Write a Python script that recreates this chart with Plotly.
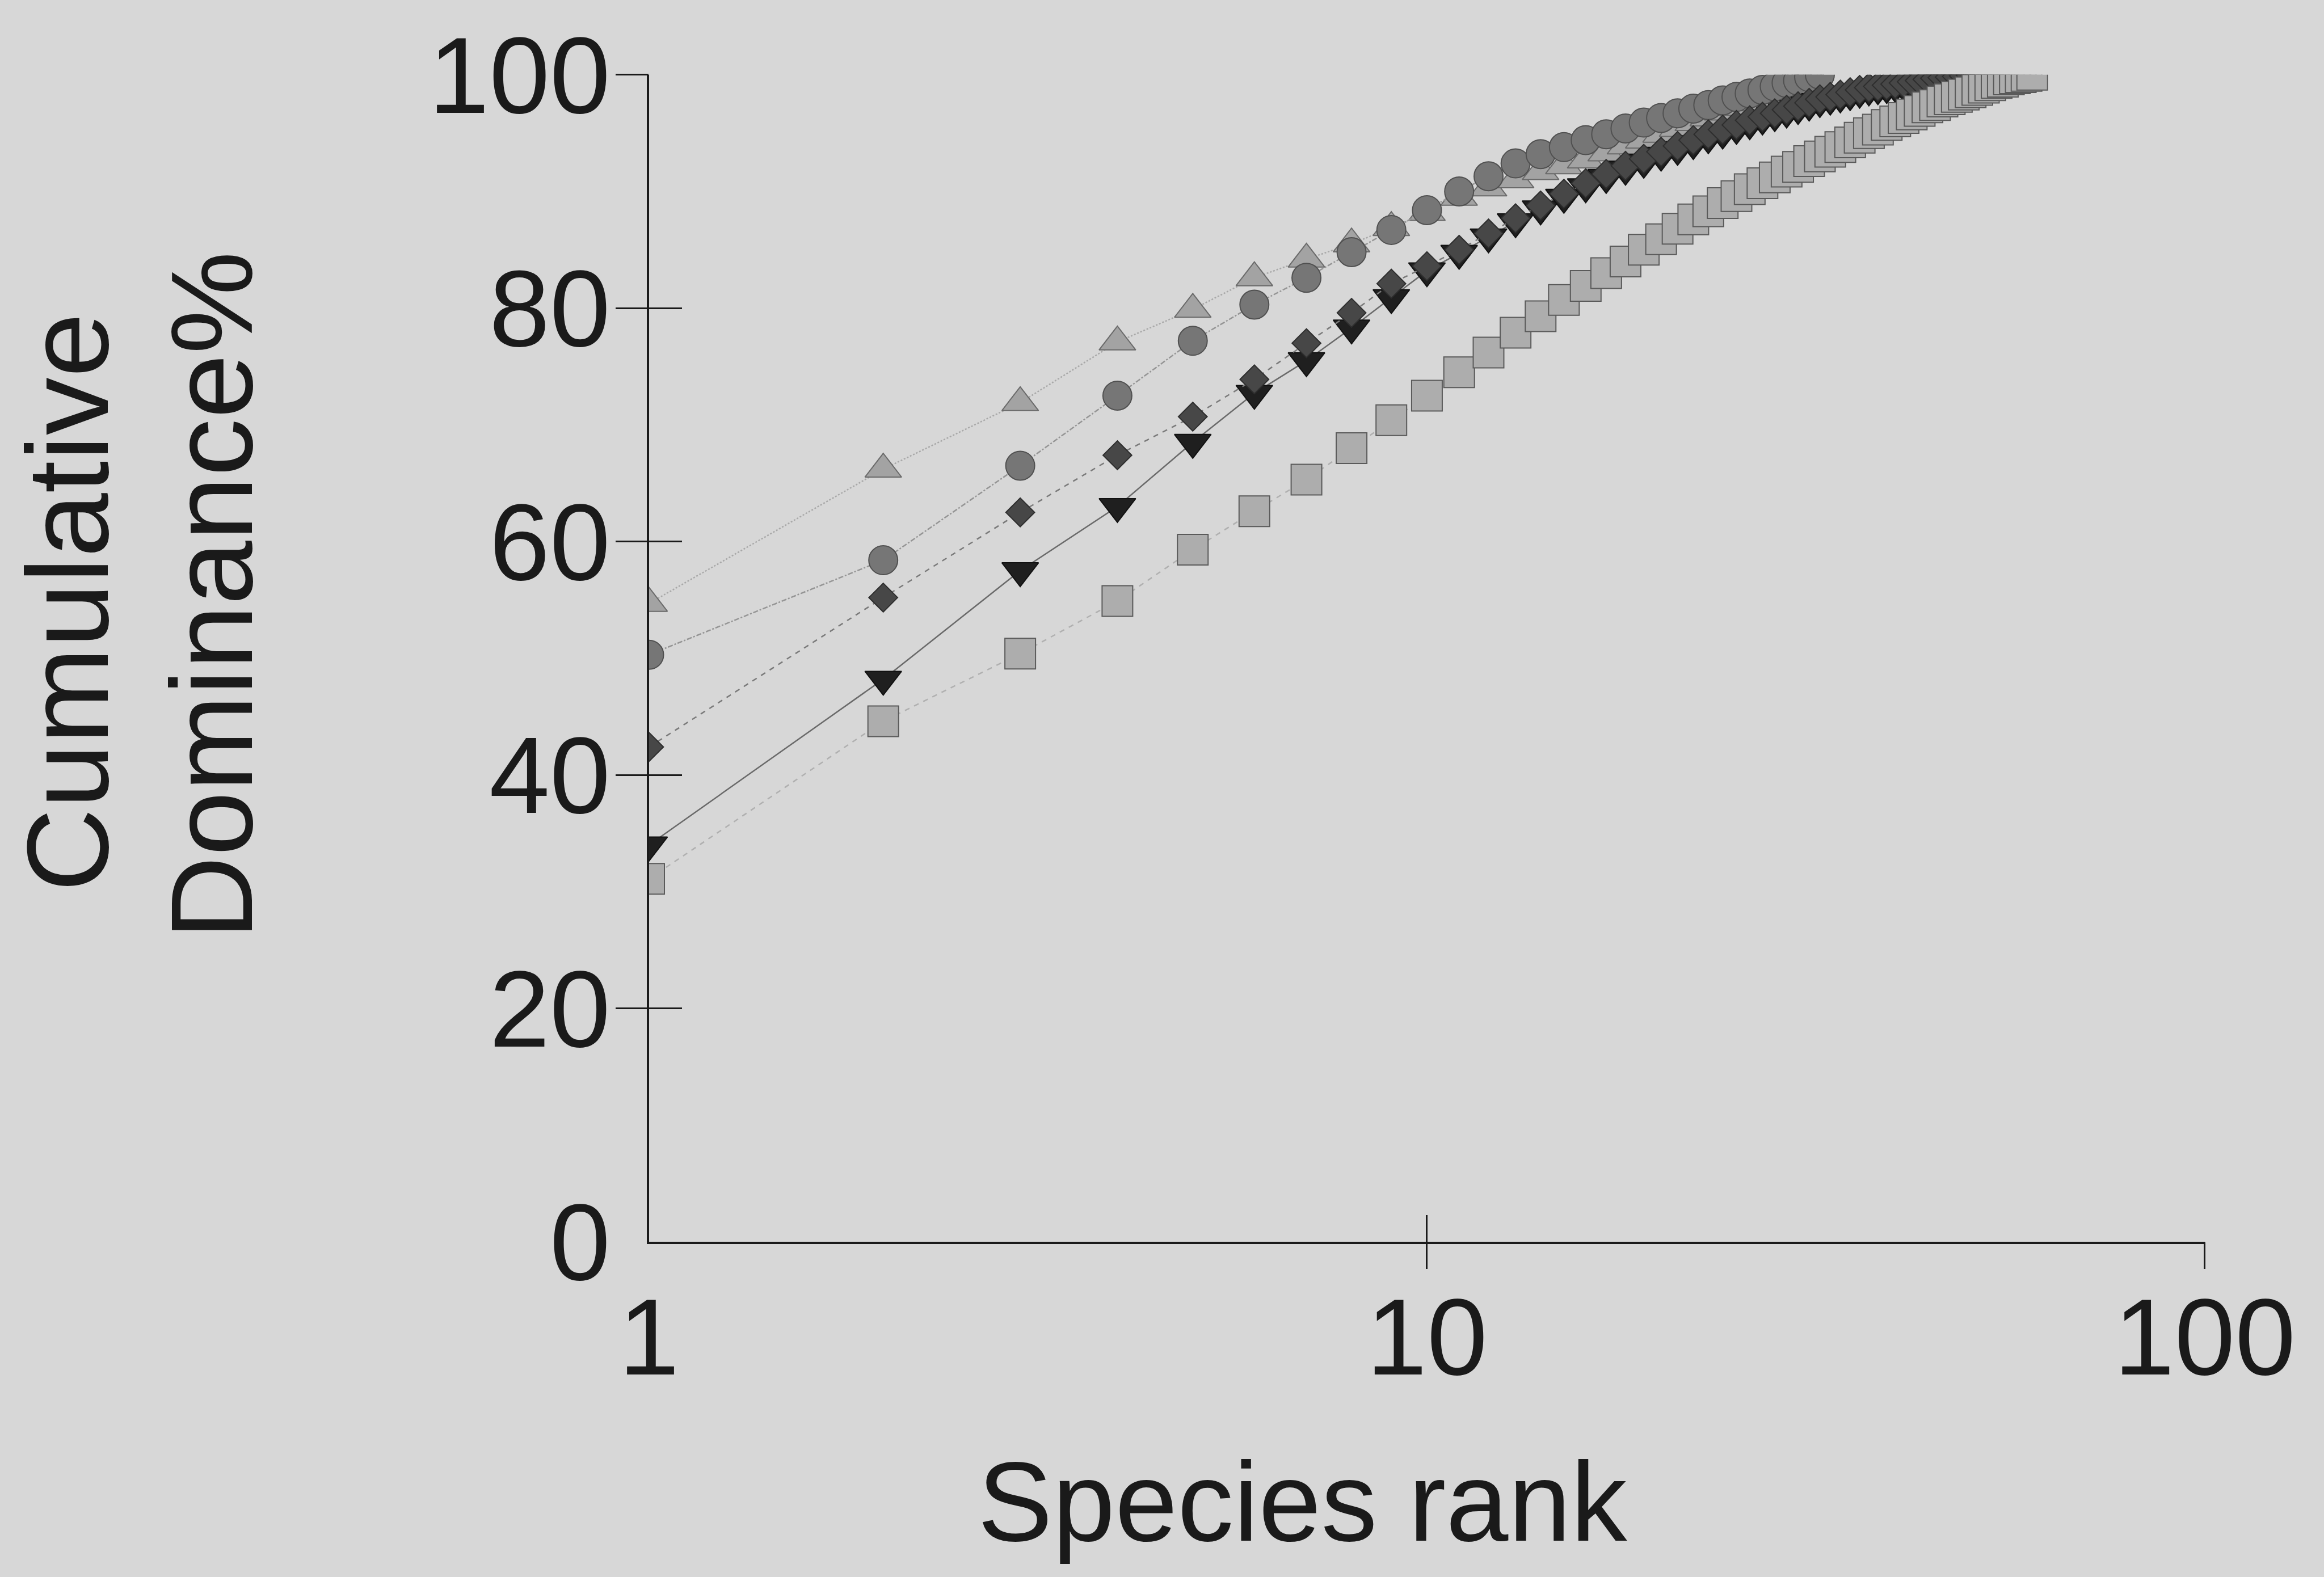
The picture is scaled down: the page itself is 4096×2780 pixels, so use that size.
import plotly.graph_objects as go

# Cumulative dominance (%) against species rank for five assemblages
ranks_tri = list(range(1, 32))
dom_tri = [54.7, 66.2, 71.9, 77.1, 79.9, 82.6, 84.2, 85.5, 86.9, 88.2,
           89.5, 90.3, 91.0, 91.7, 92.2, 92.7, 93.3, 93.9, 94.4, 94.9,
           95.4, 95.9, 96.3, 96.8, 97.2, 97.6, 98.0, 98.4, 98.8, 99.3, 100.0]

ranks_circ = list(range(1, 33))
dom_circ = [50.3, 58.4, 66.5, 72.5, 77.2, 80.3, 82.6, 84.8, 86.7, 88.4,
            90.0, 91.3, 92.4, 93.2, 93.8, 94.4, 94.9, 95.4, 95.9, 96.3,
            96.7, 97.1, 97.4, 97.8, 98.1, 98.4, 98.7, 99.0, 99.3, 99.5,
            99.8, 100.0]

ranks_dtri = list(range(1, 56))
dom_dtri = [34.0, 48.2, 57.5, 63.0, 68.5, 72.7, 75.5, 78.3, 80.9, 83.2,
            84.7, 86.1, 87.4, 88.5, 89.5, 90.4, 91.2, 91.9, 92.5, 93.1,
            93.6, 94.1, 94.6, 95.0, 95.4, 95.8, 96.2, 96.5, 96.8, 97.1,
            97.4, 97.7, 97.9, 98.1, 98.3, 98.5, 98.7, 98.8, 98.9, 99.0,
            99.1, 99.2, 99.3, 99.4, 99.5, 99.55, 99.6, 99.65, 99.7, 99.75,
            99.8, 99.85, 99.9, 99.95, 100.0]

ranks_diam = list(range(1, 53))
dom_diam = [42.4, 55.2, 62.5, 67.4, 70.7, 73.9, 77.0, 79.6, 82.1, 83.6,
            85.0, 86.4, 87.7, 88.8, 89.8, 90.7, 91.5, 92.2, 92.8, 93.4,
            93.9, 94.4, 94.9, 95.3, 95.7, 96.1, 96.4, 96.7, 97.0, 97.3,
            97.6, 97.9, 98.1, 98.3, 98.5, 98.7, 98.9, 99.0, 99.1, 99.2,
            99.3, 99.4, 99.5, 99.6, 99.7, 99.75, 99.8, 99.85, 99.9, 99.95,
            99.98, 100.0]

ranks_sq = list(range(1, 61))
dom_sq = [31.1, 44.6, 50.4, 54.9, 59.3, 62.6, 65.3, 68.0, 70.4, 72.5,
          74.5, 76.2, 77.9, 79.3, 80.7, 81.9, 83.0, 84.0, 85.0, 85.9,
          86.8, 87.6, 88.3, 89.0, 89.6, 90.2, 90.7, 91.2, 91.7, 92.1,
          92.6, 93.0, 93.4, 93.8, 94.2, 94.6, 95.0, 95.3, 95.7, 96.0,
          96.3, 96.6, 96.9, 97.2, 97.4, 97.7, 97.9, 98.1, 98.3, 98.5,
          98.7, 98.9, 99.1, 99.3, 99.4, 99.6, 99.7, 99.8, 99.9, 100.0]

x_tick_vals = [1, 10, 100]
x_tick_text = ["1", "10", "100"]
y_tick_vals = [0, 20, 40, 60, 80, 100]
y_tick_text = ["0", "20", "40", "60", "80", "100"]
x_mark_vals = [10, 100]
y_mark_vals = [20, 40, 60, 80, 100]

BG = "#d7d7d7"
INK = "#1a1a1a"
FONT = "Liberation Sans, Arial, Helvetica, sans-serif"
XDOM = [0.2793, 0.9487]
YDOM = [0.2126, 0.9526]
XRANGE = [0, 2]
YRANGE = [0, 100]

series = [
    dict(x=ranks_tri, y=dom_tri, symbol="triangle-up", size=56,
         fill="#a3a3a3", edge="#6a6a6a", lcolor="#a8a8a8", dash="dot"),
    dict(x=ranks_circ, y=dom_circ, symbol="circle", size=51,
         fill="#767676", edge="#505050", lcolor="#959595", dash="dashdot"),
    dict(x=ranks_dtri, y=dom_dtri, symbol="triangle-down", size=56,
         fill="#1f1f1f", edge="#111111", lcolor="#6a6a6a", dash="solid"),
    dict(x=ranks_diam, y=dom_diam, symbol="diamond", size=39,
         fill="#474747", edge="#2e2e2e", lcolor="#7a7a7a", dash="dash"),
    dict(x=ranks_sq, y=dom_sq, symbol="square", size=54,
         fill="#adadad", edge="#5a5a5a", lcolor="#b0b0b0", dash="dash"),
]

fig = go.Figure()
for s in series:
    fig.add_trace(go.Scatter(
        x=s["x"], y=s["y"], mode="lines+markers",
        line=dict(color=s["lcolor"], width=2.5, dash=s["dash"]),
        marker=dict(symbol=s["symbol"], size=s["size"], color=s["fill"],
                    line=dict(color=s["edge"], width=2)),
        showlegend=False, hoverinfo="skip",
    ))

# empty traces that hold the overlay axes used for crossing tick marks
for k in (2, 3):
    fig.add_trace(go.Scatter(x=[], y=[], xaxis=f"x{k}", yaxis=f"y{k}",
                             showlegend=False, hoverinfo="skip"))

axis_common = dict(showgrid=False, zeroline=False, fixedrange=True,
                   automargin=False)
tick_font = dict(size=192, family=FONT, color=INK)

fig.update_layout(
    template="none",
    width=4096, height=2780,
    margin=dict(l=0, r=0, t=0, b=0, pad=0, autoexpand=False),
    paper_bgcolor=BG, plot_bgcolor=BG,
    font=dict(family=FONT, color=INK),
    xaxis=dict(type="log", range=XRANGE, domain=XDOM, anchor="y",
               showline=True, linecolor=INK, linewidth=3.5,
               ticks="",
               tickvals=x_tick_vals, ticktext=x_tick_text,
               tickfont=tick_font, **axis_common),
    yaxis=dict(range=YRANGE, domain=YDOM, anchor="x",
               showline=True, linecolor=INK, linewidth=3.5,
               ticks="outside", ticklen=26, tickwidth=1,
               tickcolor="rgba(0,0,0,0)",
               tickvals=y_tick_vals, ticktext=y_tick_text,
               tickfont=tick_font, **axis_common),
    xaxis2=dict(type="log", range=XRANGE, domain=XDOM, anchor="y2",
                overlaying="x", showline=False, showticklabels=False,
                ticks="outside", ticklen=47, tickwidth=3, tickcolor=INK,
                tickvals=x_mark_vals, **axis_common),
    yaxis2=dict(range=YRANGE, domain=YDOM, anchor="x2", overlaying="y",
                showline=False, showticklabels=False,
                ticks="outside", ticklen=58, tickwidth=3, tickcolor=INK,
                tickvals=y_mark_vals, **axis_common),
    xaxis3=dict(type="log", range=XRANGE, domain=XDOM, anchor="y3",
                overlaying="x", showline=False, showticklabels=False,
                ticks="inside", ticklen=47, tickwidth=3, tickcolor=INK,
                tickvals=x_mark_vals, **axis_common),
    yaxis3=dict(range=YRANGE, domain=YDOM, anchor="x3", overlaying="y",
                showline=False, showticklabels=False,
                ticks="inside", ticklen=58, tickwidth=3, tickcolor=INK,
                tickvals=y_mark_vals, **axis_common),
)

title_font = dict(size=204, family=FONT, color=INK)
fig.add_annotation(text="Cumulative", xref="paper", yref="paper",
                   x=0.0291, y=0.618, textangle=-90, showarrow=False,
                   xanchor="center", yanchor="middle", font=title_font)
fig.add_annotation(text="Dominance%", xref="paper", yref="paper",
                   x=0.0911, y=0.6223, textangle=-90, showarrow=False,
                   xanchor="center", yanchor="middle", font=title_font)
fig.add_annotation(text="Species rank", xref="paper", yref="paper",
                   x=0.5605, y=0.0475, showarrow=False,
                   xanchor="center", yanchor="middle",
                   font=dict(size=198, family=FONT, color=INK))

fig.write_html("out.html")
